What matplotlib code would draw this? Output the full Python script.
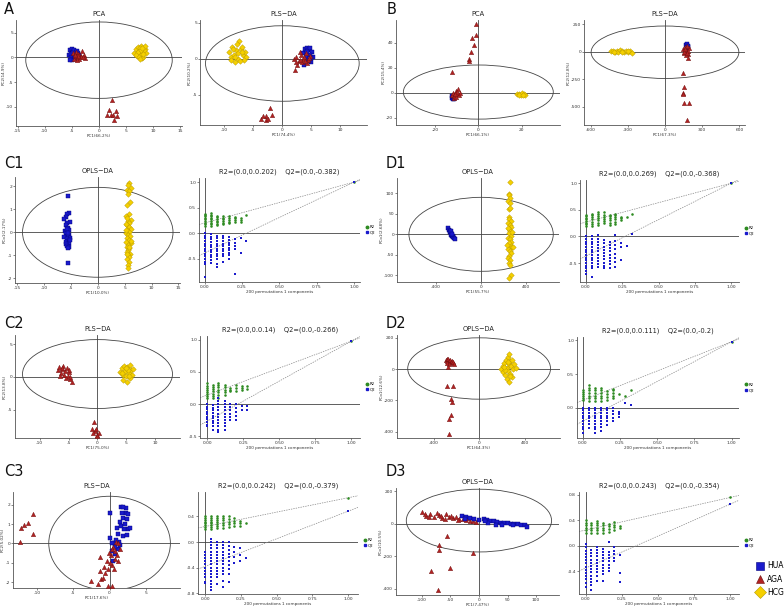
import matplotlib
matplotlib.use('Agg')
import matplotlib.pyplot as plt
from matplotlib.patches import Ellipse
from matplotlib.lines import Line2D
from matplotlib.ticker import FormatStrFormatter

plt.rcParams['font.family'] = ['DejaVu Sans']
plt.rcParams['axes.unicode_minus'] = False

# ---------------- score-plot data (x, y) ----------------
A_PCA_HUA = [(-5.3,1.6),(-5.0,1.8),(-4.8,1.2),(-4.6,1.5),(-4.3,1.0),(-4.0,1.4),(-3.8,0.9),(-5.5,0.4),(-5.1,0.7),(-4.7,0.3),
             (-4.4,0.6),(-4.1,0.2),(-3.6,0.5),(-5.2,-0.2),(-4.9,-0.5),(-4.5,0.0),(-4.2,-0.3),(-3.9,-0.1),(-5.4,-0.6),(-4.8,1.0)]
A_PCA_AGA = [(-4.8,0.9),(-4.5,0.4),(-4.2,1.2),(-4.0,0.0),(-3.7,0.6),(-3.4,0.2),(-3.1,1.3),(-2.8,0.5),(-2.5,-0.1),(-4.6,-0.3),
             (-4.3,0.3),(-3.9,0.8),(-3.6,-0.4),(-3.3,0.0),(-4.1,-0.6),(-3.8,0.2),(-3.0,0.1),(-4.4,0.6),
             (2.4,-8.6),(1.8,-10.7),(2.2,-11.6),(3.2,-10.9),(3.4,-11.8),(2.8,-12.7),(1.5,-11.7),(2.5,-11.7)]
A_PCA_HCG = [(6.5,1.0),(6.8,1.8),(7.0,0.3),(7.2,2.2),(7.4,1.4),(7.6,0.6),(7.8,2.4),(8.0,1.2),(8.2,0.0),(8.4,1.8),(8.6,0.9),
             (7.1,1.1),(7.5,2.0),(7.9,-0.2),(8.3,1.5),(6.9,0.6),(7.3,0.0),(7.7,1.6),(8.1,0.8),(8.5,2.3),(7.6,-0.4),(8.0,2.0)]

A_PLS_HCG = [(-9.2,1.0),(-8.9,0.3),(-8.6,1.6),(-8.3,0.6),(-8.0,1.2),(-7.7,0.0),(-7.4,2.5),(-7.1,1.4),(-6.8,0.5),(-6.5,1.0),
             (-6.2,0.3),(-8.8,-0.2),(-8.2,-0.4),(-7.6,0.8),(-7.0,1.7),(-6.6,-0.1),(-8.5,1.4),(-7.9,2.0),(-7.3,-0.3),(-6.9,0.9),(-8.1,0.2)]
A_PLS_HUA = [(3.6,0.8),(3.9,1.3),(4.2,1.5),(4.5,1.2),(4.8,1.5),(5.1,1.0),(5.3,0.3),(4.0,0.2),(4.4,-0.2),(4.7,0.6),(5.0,-0.5),
             (3.8,-0.8),(4.3,0.9),(4.9,0.1),(4.6,-0.3)]
A_PLS_AGA = [(2.0,0.0),(2.4,0.3),(2.8,-0.3),(3.2,0.5),(3.6,0.0),(4.0,0.8),(4.4,-0.2),(4.8,0.4),(2.6,-0.8),(3.0,0.9),(3.4,-0.5),
             (3.8,0.2),(4.2,-0.6),(2.3,-0.4),(3.1,-0.1),(3.9,-0.3),(4.6,0.1),(2.1,-1.6),
             (-2.2,-6.8),(-2.9,-8.0),(-1.7,-7.8),(-2.8,-8.5),(-3.7,-8.3),(-3.3,-7.9),(-2.5,-8.4)]

B_PCA_HUA = [(-12.3,-4.5),(-11.8,-3.5),(-11.5,-5.0),(-11.0,-4.0),(-12.0,-2.8),(-11.2,-5.3)]
B_PCA_AGA = [(-1.2,55),(-1.2,45.9),(-2.9,43.7),(-1.8,38),(-3.4,32.5),(-4.3,27.2),(-4.2,25),(-12.0,16.5),
             (-12,-2),(-11.5,0),(-11,-3),(-10.5,1),(-10,-1),(-9.5,2.5),(-9,-2),(-8.5,0),(-11.2,-4),(-10.2,-3.5),(-9.8,0.8),(-10.8,-1)]
B_PCA_HCG = [(18.0,-1.5),(18.8,-0.8),(19.5,-1.8),(20.2,-0.5),(21.0,-1.2),(21.5,-1.6),(19.0,-2.2),(20.5,-2.0)]

B_PLS_HCG = [(-438,5),(-420,10),(-405,0),(-390,8),(-375,-2),(-360,12),(-345,3),(-330,-5),(-315,6),(-300,-3),(-285,2),
             (-270,-8),(-410,-6),(-350,-6),(-295,10)]
B_PLS_HUA = [(170,60),(180,70),(188,45),(175,30),(185,55)]
B_PLS_AGA = [(145,20),(155,-10),(165,40),(175,10),(185,-20),(190,30),(160,0),(170,-30),(180,50),(150,-5),(165,20),(185,5),(175,-15),
             (185,-60),(145,-190),(156,-323),(145,-370),(148,-385),(153,-468),(193,-468),(180,-619)]

C1_HUA = [(-5.6,1.57),(-5.4,0.85),(-5.7,0.78),(-5.9,0.65),(-6.3,0.56),(-5.2,0.46),(-5.8,0.40),(-6.0,0.30),(-5.5,0.20),(-5.3,0.10),
          (-6.1,0.05),(-5.9,-0.02),(-5.4,-0.10),(-5.6,-0.15),(-6.2,-0.20),(-5.2,-0.25),(-5.8,-0.30),(-5.5,-0.38),(-5.9,-0.42),
          (-5.3,-0.48),(-6.0,-0.52),(-5.7,-0.58),(-5.4,-0.62),(-5.6,-0.68),(-5.2,-0.35),(-5.8,0.15),(-5.5,-0.05),(-5.6,-1.34)]
C1_HCG = [(5.8,2.16),(5.6,2.05),(6.1,1.92),(5.4,1.85),(5.9,1.78),(5.7,1.65),(6.0,1.30),(5.5,1.20),(5.8,0.80),(5.3,0.72),(6.1,0.55),
          (5.6,0.48),(5.9,0.42),(5.4,0.30),(5.8,0.22),(6.2,0.15),(5.5,0.08),(5.9,0.02),(5.3,-0.05),(5.7,-0.12),(6.0,-0.18),
          (5.5,-0.25),(5.8,-0.32),(5.2,-0.40),(6.1,-0.48),(5.6,-0.55),(5.4,-0.62),(5.9,-0.70),(5.7,-0.78),(5.5,-0.85),(6.0,-0.92),
          (5.6,-1.00),(5.8,-1.08),(5.4,-1.18),(5.9,-1.30),(5.7,-1.42),(5.6,-1.56),(5.3,0.35),(6.2,-0.38),(5.9,-0.65),(5.5,0.60),
          (5.2,0.10),(5.4,-0.95)]

D1_HUA = [(-290,15),(-284,11),(-279,8),(-274,5),(-268,2),(-263,-1),(-258,-3),(-252,-5),(-246,-7),(-240,-9),(-234,-11),(-270,7),(-255,0)]
D1_HCG = [(255,127),(250,98),(245,95),(255,88),(240,80),(258,75),(250,62),(260,64),(245,42),(252,38),(262,32),(240,28),(255,22),
          (270,18),(245,12),(260,8),(250,2),(265,-3),(240,-8),(256,-12),(270,-18),(248,-22),(262,-28),(278,-32),(242,-35),(255,-40),
          (268,-45),(250,-52),(238,-58),(260,-62),(246,-70),(254,-75),(262,-98),(248,-106),(285,-30),(230,-25),(275,5),(235,15)]

C2_AGA = [(-6.9,1.0),(-6.6,1.5),(-6.3,0.6),(-6.1,1.2),(-5.8,0.3),(-5.6,0.9),(-5.3,1.4),(-5.1,0.2),(-4.9,0.7),(-4.7,-0.3),(-4.5,-0.7),
          (-5.9,1.6),(-6.5,0.2),(-5.5,-0.1),(-5.0,1.1),(-4.8,0.0),(-6.2,1.3),
          (-0.6,-6.9),(-1.0,-7.9),(-0.4,-8.3),(-0.1,-8.8),(0.2,-8.5),(-0.7,-8.6),(0.0,-9.0),(-0.3,-8.0)]
C2_HCG = [(3.9,0.8),(4.2,1.3),(4.4,0.3),(4.6,1.7),(4.8,0.9),(5.0,0.1),(5.2,1.5),(5.4,0.6),(5.6,1.9),(5.8,1.0),(6.0,0.3),(6.2,1.2),
          (4.5,-0.4),(5.1,-0.7),(5.7,-0.2),(4.3,0.6),(5.3,1.0),(4.9,1.4),(5.5,0.2)]

D2_AGA = [(-292,60),(-285,67),(-278,55),(-270,62),(-262,50),(-255,58),(-248,45),(-240,52),(-232,40),(-225,47),(-220,35),(-280,40),
          (-265,30),(-277,13),(-283,-106),(-229,-106),(-249,-192),(-240,-209),(-249,-296),(-263,-321),(-263,-414)]
D2_HCG = [(194,0),(205,20),(210,-20),(220,40),(225,-40),(235,60),(240,10),(245,-60),(250,80),(255,-10),(260,30),(262,-84),(265,99),
          (270,50),(275,-30),(280,20),(290,-50),(300,0),(310,30),(323,10),(230,-5),(250,45),(270,-45),(285,60),(215,15)]

C3_AGA = [(-10.6,1.5),(-11.3,1.07),(-11.8,0.94),(-12.2,0.82),(-10.5,0.51),(-12.3,0.09),
          (-2.55,-1.94),(-1.6,-2.1),(-1.2,-1.82),(-0.27,-2.2),(0.4,-2.2),(-1.37,-0.68),(-1.28,-1.4),(-0.8,-1.22),(-0.4,-0.9),
          (0.3,-1.1),(0.8,-0.4),(0.5,-0.2),(1.0,-0.6),(1.2,-0.9),(0.2,-0.6),(-0.2,-1.3),(0.6,-1.3),(-0.6,-1.5),(0.0,-1.0),
          (1.4,-0.3),(0.9,0.1),(-0.9,-1.8),(0.3,-0.3),(0.7,-0.8),(-0.1,-0.5),(1.1,0.0)]
C3_HUA = [(0.0,1.6),(1.6,1.87),(2.3,1.84),(1.9,1.33),(2.4,1.24),(2.6,0.73),(2.0,0.73),(1.0,0.82),(1.2,0.48),(0.0,0.3),(0.6,0.0),
          (0.8,-0.55),(0.5,-0.9),(1.5,1.1),(2.8,0.8),(1.8,0.4),(2.2,1.55),(1.3,0.1),(1.6,0.9),(2.4,0.45),(0.9,0.2),(1.1,-0.3),
          (0.4,-0.4),(1.7,1.6),(2.1,1.0),(0.3,0.05),(0.7,-0.2),(1.4,-0.1),(2.5,1.5),(1.9,1.9)]

D3_AGA = [(-99,71),(-92,51),(-85,60),(-78,42),(-70,55),(-64,38),(-58,60),(-52,45),(-46,35),(-40,40),(-34,28),(-28,30),(-22,25),
          (-16,20),(-10,15),(-5,10),(-88,45),(-74,65),(-60,30),(-48,50),(-36,22),(-20,35),(-95,62),(-66,48),
          (-56,-75),(-69,-129),(-69,-163),(-11,-178),(-84,-292),(-51,-271),(-71,-408)]
D3_HUA = [(-30,51),(-22,40),(-15,35),(-8,30),(0,25),(8,28),(14,22),(20,18),(26,15),(32,10),(38,8),(44,5),(50,3),(56,2),(62,0),
          (68,-2),(74,-5),(80,-10),(84,-20),(30,-5),(40,-8),(16,5),(60,-6),(-25,30),(10,15)]

# ---------------- permutation-test data ----------------
C1_X = [0.0, 0.04, 0.08, 0.12, 0.16, 0.20, 0.24, 0.28]
C1_R2 = [[0.15,0.18,0.21,0.24,0.27,0.30,0.33,0.36,0.38],[0.15,0.18,0.21,0.24,0.27,0.30,0.33,0.36,0.39],
         [0.16,0.19,0.22,0.25,0.28,0.31,0.34],[0.18,0.21,0.24,0.27,0.30,0.33],[0.20,0.23,0.26,0.29,0.33],
         [0.22,0.26,0.29,0.32],[0.22,0.26,0.30],[0.35]]
C1_Q2 = [[0.0,-0.05,-0.10,-0.15,-0.20,-0.25,-0.30,-0.35,-0.40,-0.45,-0.50,-0.55,-0.60,-0.85],
         [-0.02,-0.07,-0.12,-0.17,-0.22,-0.27,-0.32,-0.37,-0.42,-0.47,-0.52,-0.58],
         [-0.05,-0.10,-0.15,-0.20,-0.25,-0.30,-0.35,-0.40,-0.45,-0.50,-0.60,-0.66],
         [-0.05,-0.10,-0.15,-0.20,-0.25,-0.30,-0.35,-0.40,-0.45,-0.55],
         [-0.08,-0.13,-0.18,-0.23,-0.28,-0.33,-0.38,-0.43,-0.50],
         [-0.12,-0.18,-0.24,-0.30,-0.80],[-0.10,-0.38],[-0.15]]

D1_X = [0.0, 0.04, 0.083, 0.125, 0.164, 0.20, 0.24, 0.28, 0.32]
D1_R2 = [[0.20,0.23,0.26,0.29,0.32,0.35,0.38,0.40],[0.20,0.24,0.28,0.32,0.36,0.40,0.43],
         [0.22,0.26,0.30,0.34,0.38,0.42,0.46],[0.25,0.29,0.33,0.37,0.41,0.45],[0.22,0.26,0.30,0.34,0.38,0.40],
         [0.24,0.28,0.32,0.36,0.40,0.42],[0.30,0.34,0.37],[0.36],[0.43]]
D1_Q2 = [[0.0,-0.05,-0.10,-0.15,-0.20,-0.25,-0.30,-0.35,-0.40,-0.45,-0.50,-0.55,-0.60,-0.65,-0.70],
         [0.0,-0.05,-0.10,-0.15,-0.20,-0.25,-0.30,-0.35,-0.40,-0.45,-0.50,-0.55,-0.60,-0.77],
         [0.02,-0.04,-0.10,-0.16,-0.22,-0.28,-0.34,-0.40,-0.46,-0.52,-0.58],
         [-0.07,-0.13,-0.19,-0.25,-0.31,-0.37,-0.43,-0.49,-0.55,-0.60],
         [-0.10,-0.16,-0.22,-0.28,-0.34,-0.40,-0.46,-0.52,-0.60],
         [0.02,-0.08,-0.16,-0.24,-0.32,-0.40,-0.48,-0.58],[-0.12,-0.20,-0.44],[-0.18],[0.04]]

C2_X = [0.0, 0.037, 0.076, 0.12, 0.157, 0.20, 0.238, 0.277]
C2_R2 = [[0.10,0.13,0.16,0.19,0.22,0.25,0.28,0.32],[0.10,0.13,0.16,0.20,0.24,0.27,0.30],
         [0.10,0.14,0.18,0.22,0.26,0.30,0.33],[0.14,0.18,0.22,0.26,0.30],[0.20,0.22,0.25],
         [0.20,0.25,0.30],[0.22,0.25,0.28],[0.23,0.28]]
C2_Q2 = [[0.0,-0.04,-0.08,-0.12,-0.16,-0.20,-0.24,-0.28,-0.32,-0.35],
         [-0.02,-0.06,-0.10,-0.14,-0.18,-0.22,-0.26,-0.30,-0.34,-0.40],
         [0.10,0.05,0.0,-0.05,-0.10,-0.15,-0.20,-0.25,-0.30,-0.35,-0.40,-0.44],
         [0.05,0.0,-0.05,-0.10,-0.15,-0.20,-0.25,-0.30,-0.35,-0.40],
         [0.0,-0.05,-0.10,-0.15,-0.20,-0.25],[0.0,-0.06,-0.12,-0.18,-0.25],[-0.03,-0.10],[-0.03,-0.10]]

D2_X = [0.0, 0.04, 0.08, 0.12, 0.16, 0.20, 0.24, 0.28, 0.32]
D2_R2 = [[0.12,0.15,0.18,0.21,0.24,0.26],[0.10,0.14,0.18,0.22,0.26,0.30,0.33],[0.10,0.14,0.18,0.22,0.26,0.30],
         [0.10,0.14,0.18,0.22,0.26,0.30],[0.12,0.16,0.20,0.25],[0.14,0.18,0.22,0.26,0.28],[0.20],[0.18],[0.27]]
D2_Q2 = [[0.0,-0.04,-0.08,-0.12,-0.16,-0.20,-0.24,-0.28,-0.32,-0.38],
         [0.0,-0.04,-0.08,-0.12,-0.16,-0.20,-0.24,-0.30],
         [0.0,-0.04,-0.08,-0.12,-0.16,-0.20,-0.24,-0.28,-0.32,-0.38],
         [0.0,-0.04,-0.08,-0.12,-0.16,-0.20,-0.24,-0.28,-0.34],
         [0.0,-0.04,-0.08,-0.12,-0.16,-0.20,-0.25],[0.0,-0.05,-0.10,-0.15,-0.20],[-0.06,-0.10,-0.14],[0.07],[0.04]]

C3_X = [0.0, 0.04, 0.081, 0.123, 0.165, 0.205, 0.244, 0.284]
C3_R2 = [[0.20,0.23,0.26,0.29,0.32,0.35,0.38,0.40],[0.20,0.23,0.26,0.29,0.32,0.35,0.38,0.40],
         [0.22,0.25,0.28,0.31,0.34,0.37,0.40],[0.22,0.26,0.30,0.34,0.38,0.40],[0.24,0.28,0.32,0.36,0.40],
         [0.25,0.29,0.33,0.37],[0.25,0.29,0.33],[0.30]]
C3_Q2 = [[-0.15,-0.20,-0.25,-0.30,-0.35,-0.40,-0.45,-0.50,-0.55,-0.62,-0.64],
         [0.05,0.0,-0.05,-0.10,-0.15,-0.20,-0.25,-0.30,-0.35,-0.40,-0.45,-0.50,-0.55,-0.60,-0.65,-0.70,-0.75],
         [0.0,-0.05,-0.10,-0.15,-0.20,-0.25,-0.30,-0.35,-0.40,-0.45,-0.50,-0.55,-0.65],
         [0.0,-0.05,-0.10,-0.15,-0.20,-0.25,-0.30,-0.35,-0.40,-0.45,-0.50,-0.60,-0.70],
         [0.0,-0.06,-0.12,-0.18,-0.24,-0.30,-0.36,-0.42,-0.50,-0.63],
         [-0.08,-0.16,-0.24,-0.32],[-0.10,-0.20,-0.30],[-0.25]]

D3_X = [0.0, 0.04, 0.08, 0.122, 0.162, 0.20, 0.24]
D3_R2 = [[0.20,0.24,0.28,0.32,0.36,0.40],[0.20,0.24,0.28,0.32,0.36],[0.20,0.24,0.28,0.32,0.36,0.38],
         [0.20,0.24,0.28,0.32,0.35],[0.22,0.26,0.30,0.34],[0.25,0.29,0.33,0.37],[0.27,0.31]]
D3_Q2 = [[0.02,-0.03,-0.08,-0.13,-0.18,-0.23,-0.28,-0.33,-0.38,-0.43,-0.48,-0.53,-0.58,-0.65],
         [-0.07,-0.12,-0.17,-0.22,-0.27,-0.32,-0.37,-0.42,-0.47,-0.52,-0.57,-0.62,-0.70],
         [-0.02,-0.07,-0.12,-0.17,-0.22,-0.27,-0.32,-0.37,-0.42,-0.47,-0.55],
         [-0.05,-0.10,-0.15,-0.20,-0.25,-0.30,-0.35,-0.40,-0.45,-0.55],
         [0.05,-0.10,-0.15,-0.20,-0.25,-0.30,-0.35,-0.40],[-0.02,-0.08,-0.14,-0.20,-0.25],[-0.15,-0.43,-0.57]]

# original model (R2, Q2) and intercepts (R2_int, Q2_int)
C1_ORIG = (1.0, 1.0, 0.202, -0.382)
D1_ORIG = (1.0, 1.0, 0.269, -0.368)
C2_ORIG = (0.98, 0.98, 0.14, -0.266)
D2_ORIG = (0.98, 0.98, 0.111, -0.2)
C3_ORIG = (0.69, 0.48, 0.242, -0.379)
D3_ORIG = (0.755, 0.65, 0.243, -0.354)

GROUPS = ['HUA', 'AGA', 'HCG']

# ---------------- styling ----------------
W, H = 784, 608
fig = plt.figure(figsize=(W/100, H/100), dpi=100)

LINE = '#444444'
STY = {
    'HUA': dict(marker='s', s=8, fc='#1a1acc', ec='#00007a', lw=0.3),
    'AGA': dict(marker='^', s=10, fc='#b22222', ec='#6e0f0f', lw=0.3),
    'HCG': dict(marker='D', s=8, fc='#f5d000', ec='#b89a00', lw=0.3),
}
GREEN = '#2e8b22'
BLUE = '#1a1acc'


def add_ax(l, t, r, b):
    return fig.add_axes([l/W, 1-b/H, (r-l)/W, (b-t)/H])


def style(ax, xlim, ylim, xticks, yticks, xlabel, ylabel, title):
    ax.set_xlim(xlim)
    ax.set_ylim(ylim)
    ax.set_xticks(xticks)
    ax.set_yticks(yticks)
    for s in ['top', 'right']:
        ax.spines[s].set_visible(False)
    for s in ['left', 'bottom']:
        ax.spines[s].set_color('#555555')
        ax.spines[s].set_linewidth(0.6)
    ax.tick_params(labelsize=3.2, length=1.3, width=0.5, pad=0.8, colors='#555555', labelcolor='#333333')
    ax.set_xlabel(xlabel, fontsize=3.0, labelpad=0.8, color='#333333')
    ax.set_ylabel(ylabel, fontsize=3.0, labelpad=0.5, color='#333333')
    ax.set_title(title, fontsize=4.8, pad=3, color='#222222')
    ax.patch.set_alpha(0)


def score(box, lims, ticks, labels, title, ell, groups):
    ax = add_ax(*box)
    style(ax, lims[0], lims[1], ticks[0], ticks[1], labels[0], labels[1], title)
    ax.axhline(0, color=LINE, lw=0.6, zorder=1)
    ax.axvline(0, color=LINE, lw=0.6, zorder=1)
    ax.add_patch(Ellipse(ell[0], ell[1], ell[2], fill=False, ec=LINE, lw=0.6, zorder=1))
    for g, pts in groups:
        st = STY[g]
        ax.scatter([p[0] for p in pts], [p[1] for p in pts], marker=st['marker'], s=st['s'],
                   facecolor=st['fc'], edgecolor=st['ec'], linewidths=st['lw'], zorder=3, clip_on=False)
    return ax


def perm(box, lims, yticks, title, xs, r2, q2, orig):
    ax = add_ax(*box)
    style(ax, lims[0], lims[1], [0, 0.25, 0.5, 0.75, 1.0], yticks, '200 permutations 1 components', '', title)
    ax.xaxis.set_major_formatter(FormatStrFormatter('%.2f'))
    ax.yaxis.set_major_formatter(FormatStrFormatter('%.1f'))
    ax.axhline(0, color=LINE, lw=0.6, zorder=1)
    ax.axvline(0, color=LINE, lw=0.6, zorder=1)
    for x, ys in zip(xs, r2):
        ax.scatter([x]*len(ys), ys, marker='o', s=3.4, c=GREEN, linewidths=0, zorder=3)
    for x, ys in zip(xs, q2):
        ax.scatter([x]*len(ys), ys, marker='s', s=3.4, c=BLUE, linewidths=0, zorder=3)
    ax.scatter([1.0], [orig[0]], marker='o', s=3.4, c=GREEN, linewidths=0, zorder=3)
    ax.scatter([1.0], [orig[1]], marker='s', s=3.4, c=BLUE, linewidths=0, zorder=4)
    ax.axline((0, orig[2]), (1, orig[0]), color='#888888', lw=0.5, ls=(0, (2, 1.5)), zorder=2)
    ax.axline((0, orig[3]), (1, orig[1]), color='#888888', lw=0.5, ls=(0, (2, 1.5)), zorder=2)
    h = [Line2D([], [], marker='o', ls='', color=GREEN, markersize=1.8),
         Line2D([], [], marker='s', ls='', color=BLUE, markersize=1.8)]
    ax.legend(h, ['R2', 'Q2'], loc='center left', bbox_to_anchor=(1.02, 0.5), frameon=False,
              fontsize=2.8, handletextpad=0.2, labelspacing=0.4, borderaxespad=0, handlelength=1)
    return ax


# ---------------- row A / B ----------------
score((16, 20, 182, 126), ((-15.3, 15.3), (-13.9, 7.6)), ([-15, -10, -5, 0, 5, 10, 15], [-10, -5, 0, 5]),
      ('PC1(66.2%)', 'PC2(14.9%)'), 'PCA', ((0, -0.55), 27.0, 15.5),
      [('HUA', A_PCA_HUA), ('AGA', A_PCA_AGA), ('HCG', A_PCA_HCG)])
score((200, 20, 367, 125), ((-14.2, 14.6), (-9.2, 5.4)), ([-10, -5, 0, 5, 10], [-5, 0, 5]),
      ('PC1(74.4%)', 'PC2(10.2%)'), 'PLS\u2212DA', ((0, -0.65), 26.5, 10.5),
      [('HCG', A_PLS_HCG), ('HUA', A_PLS_HUA), ('AGA', A_PLS_AGA)])
score((396, 20, 560, 125), ((-38, 37.7), (-26, 58)), ([-20, 0, 20], [-20, 0, 20, 40]),
      ('PC1(66.1%)', 'PC2(15.4%)'), 'PCA', ((0, 0.35), 69.2, 43.3),
      [('HUA', B_PCA_HUA), ('AGA', B_PCA_AGA), ('HCG', B_PCA_HCG)])
score((584, 20, 745, 125), ((-653, 645), (-664, 287)), ([-600, -300, 0, 300, 600], [-500, -250, 0, 250]),
      ('PC1(67.3%)', 'PC2(12.8%)'), 'PLS\u2212DA', ((0, -5), 1191, 475),
      [('HCG', B_PLS_HCG), ('HUA', B_PLS_HUA), ('AGA', B_PLS_AGA)])

# ---------------- row 1 ----------------
score((15, 177, 180, 283), ((-15.4, 15.3), (-2.2, 2.4)), ([-15, -10, -5, 0, 5, 10, 15], [-2, -1, 0, 1, 2]),
      ('PC1(10.0%)', 'PCo1(2.17%)'), 'OPLS\u2212DA', ((0, 0), 28.0, 3.9),
      [('HUA', C1_HUA), ('HCG', C1_HCG)])
perm((199, 178, 360, 282), ((-0.038, 1.04), (-0.95, 1.08)), [-0.5, 0.0, 0.5, 1.0],
     'R2=(0.0,0.0.202)    Q2=(0.0,-0.382)', C1_X, C1_R2, C1_Q2, C1_ORIG)
score((397, 178, 559, 282), ((-747, 692), (-116, 137)), ([-400, 0, 400], [-100, -50, 0, 50, 100]),
      ('PC1(55.7%)', 'PCo1(2.68%)'), 'OPLS\u2212DA', ((0, 0), 1282, 180),
      [('HUA', D1_HUA), ('HCG', D1_HCG)])
perm((580, 180, 739, 282), ((-0.04, 1.053), (-0.855, 1.06)), [-0.5, 0.0, 0.5, 1.0],
     'R2=(0.0,0.0.269)    Q2=(0.0,-0.368)', D1_X, D1_R2, D1_Q2, D1_ORIG)

# ---------------- row 2 ----------------
score((15, 335, 180, 438), ((-14.3, 14.3), (-9.3, 6.4)), ([-10, -5, 0, 5, 10], [-5, 0, 5]),
      ('PC1(75.0%)', 'PC2(13.8%)'), 'PLS\u2212DA', ((0, 0.45), 26.0, 10.5),
      [('AGA', C2_AGA), ('HCG', C2_HCG)])
perm((200, 336, 360, 438), ((-0.05, 1.06), (-0.53, 1.06)), [-0.5, 0.0, 0.5, 1.0],
     'R2=(0.0,0.0.14)    Q2=(0.0,-0.266)', C2_X, C2_R2, C2_Q2, C2_ORIG)
score((397, 335, 560, 438), ((-720, 709), (-440, 218)), ([-400, 0, 400], [-400, -200, 0, 200]),
      ('PC1(64.3%)', 'PCo1(12.6%)'), 'OPLS\u2212DA', ((0, 4), 1252, 392),
      [('AGA', D2_AGA), ('HCG', D2_HCG)])
perm((577, 337, 739, 438), ((-0.04, 1.05), (-0.45, 1.05)), [0.0, 0.5, 1.0],
     'R2=(0.0,0.0.111)    Q2=(0.0,-0.2)', D2_X, D2_R2, D2_Q2, D2_ORIG)

# ---------------- row 3 ----------------
score((13, 492, 180, 588), ((-13.3, 9.7), (-2.3, 2.66)), ([-10, -5, 0, 5], [-2, -1, 0, 1, 2]),
      ('PC1(17.6%)', 'PC2(5.02%)'), 'PLS\u2212DA', ((0, 0.01), 16.75, 4.86),
      [('HUA', C3_HUA), ('AGA', C3_AGA)])
perm((198, 492, 358, 594), ((-0.05, 1.07), (-0.81, 0.78)), [-0.8, -0.4, 0.0, 0.4],
     'R2=(0.0,0.0.242)    Q2=(0.0,-0.379)', C3_X, C3_R2, C3_Q2, C3_ORIG)
score((396, 488, 559, 595), ((-145, 140), (-439, 221)), ([-100, -50, 0, 50, 100], [-400, -200, 0, 200]),
      ('PC1(7.47%)', 'PCo1(10.5%)'), 'OPLS\u2212DA', ((0, 20), 254, 387),
      [('AGA', D3_AGA), ('HUA', D3_HUA)])
perm((579, 492, 739, 594), ((-0.045, 1.06), (-0.76, 0.84)), [-0.4, 0.0, 0.4, 0.8],
     'R2=(0.0,0.0.243)    Q2=(0.0,-0.354)', D3_X, D3_R2, D3_Q2, D3_ORIG)

# ---------------- panel letters ----------------
for lab, x, y in [('A', 4, 10), ('B', 387, 10), ('C1', 4, 164), ('D1', 386, 164),
                  ('C2', 4, 323), ('D2', 386, 323), ('C3', 4, 471), ('D3', 386, 471)]:
    fig.text(x/W, 1-y/H, lab, fontsize=10.5, va='center', ha='left', color='#111111')

# ---------------- group legend ----------------
handles = [Line2D([], [], marker=STY[g]['marker'], ls='', markerfacecolor=STY[g]['fc'],
                  markeredgecolor=STY[g]['ec'], markeredgewidth=0.4, markersize=6) for g in GROUPS]
fig.legend(handles, GROUPS, loc='center left', bbox_to_anchor=(752/W, 1-579/H), frameon=False,
           fontsize=5.5, handletextpad=0.4, labelspacing=0.55, handlelength=1.2, borderaxespad=0)

fig.savefig('out.png', dpi=100, facecolor='white')
